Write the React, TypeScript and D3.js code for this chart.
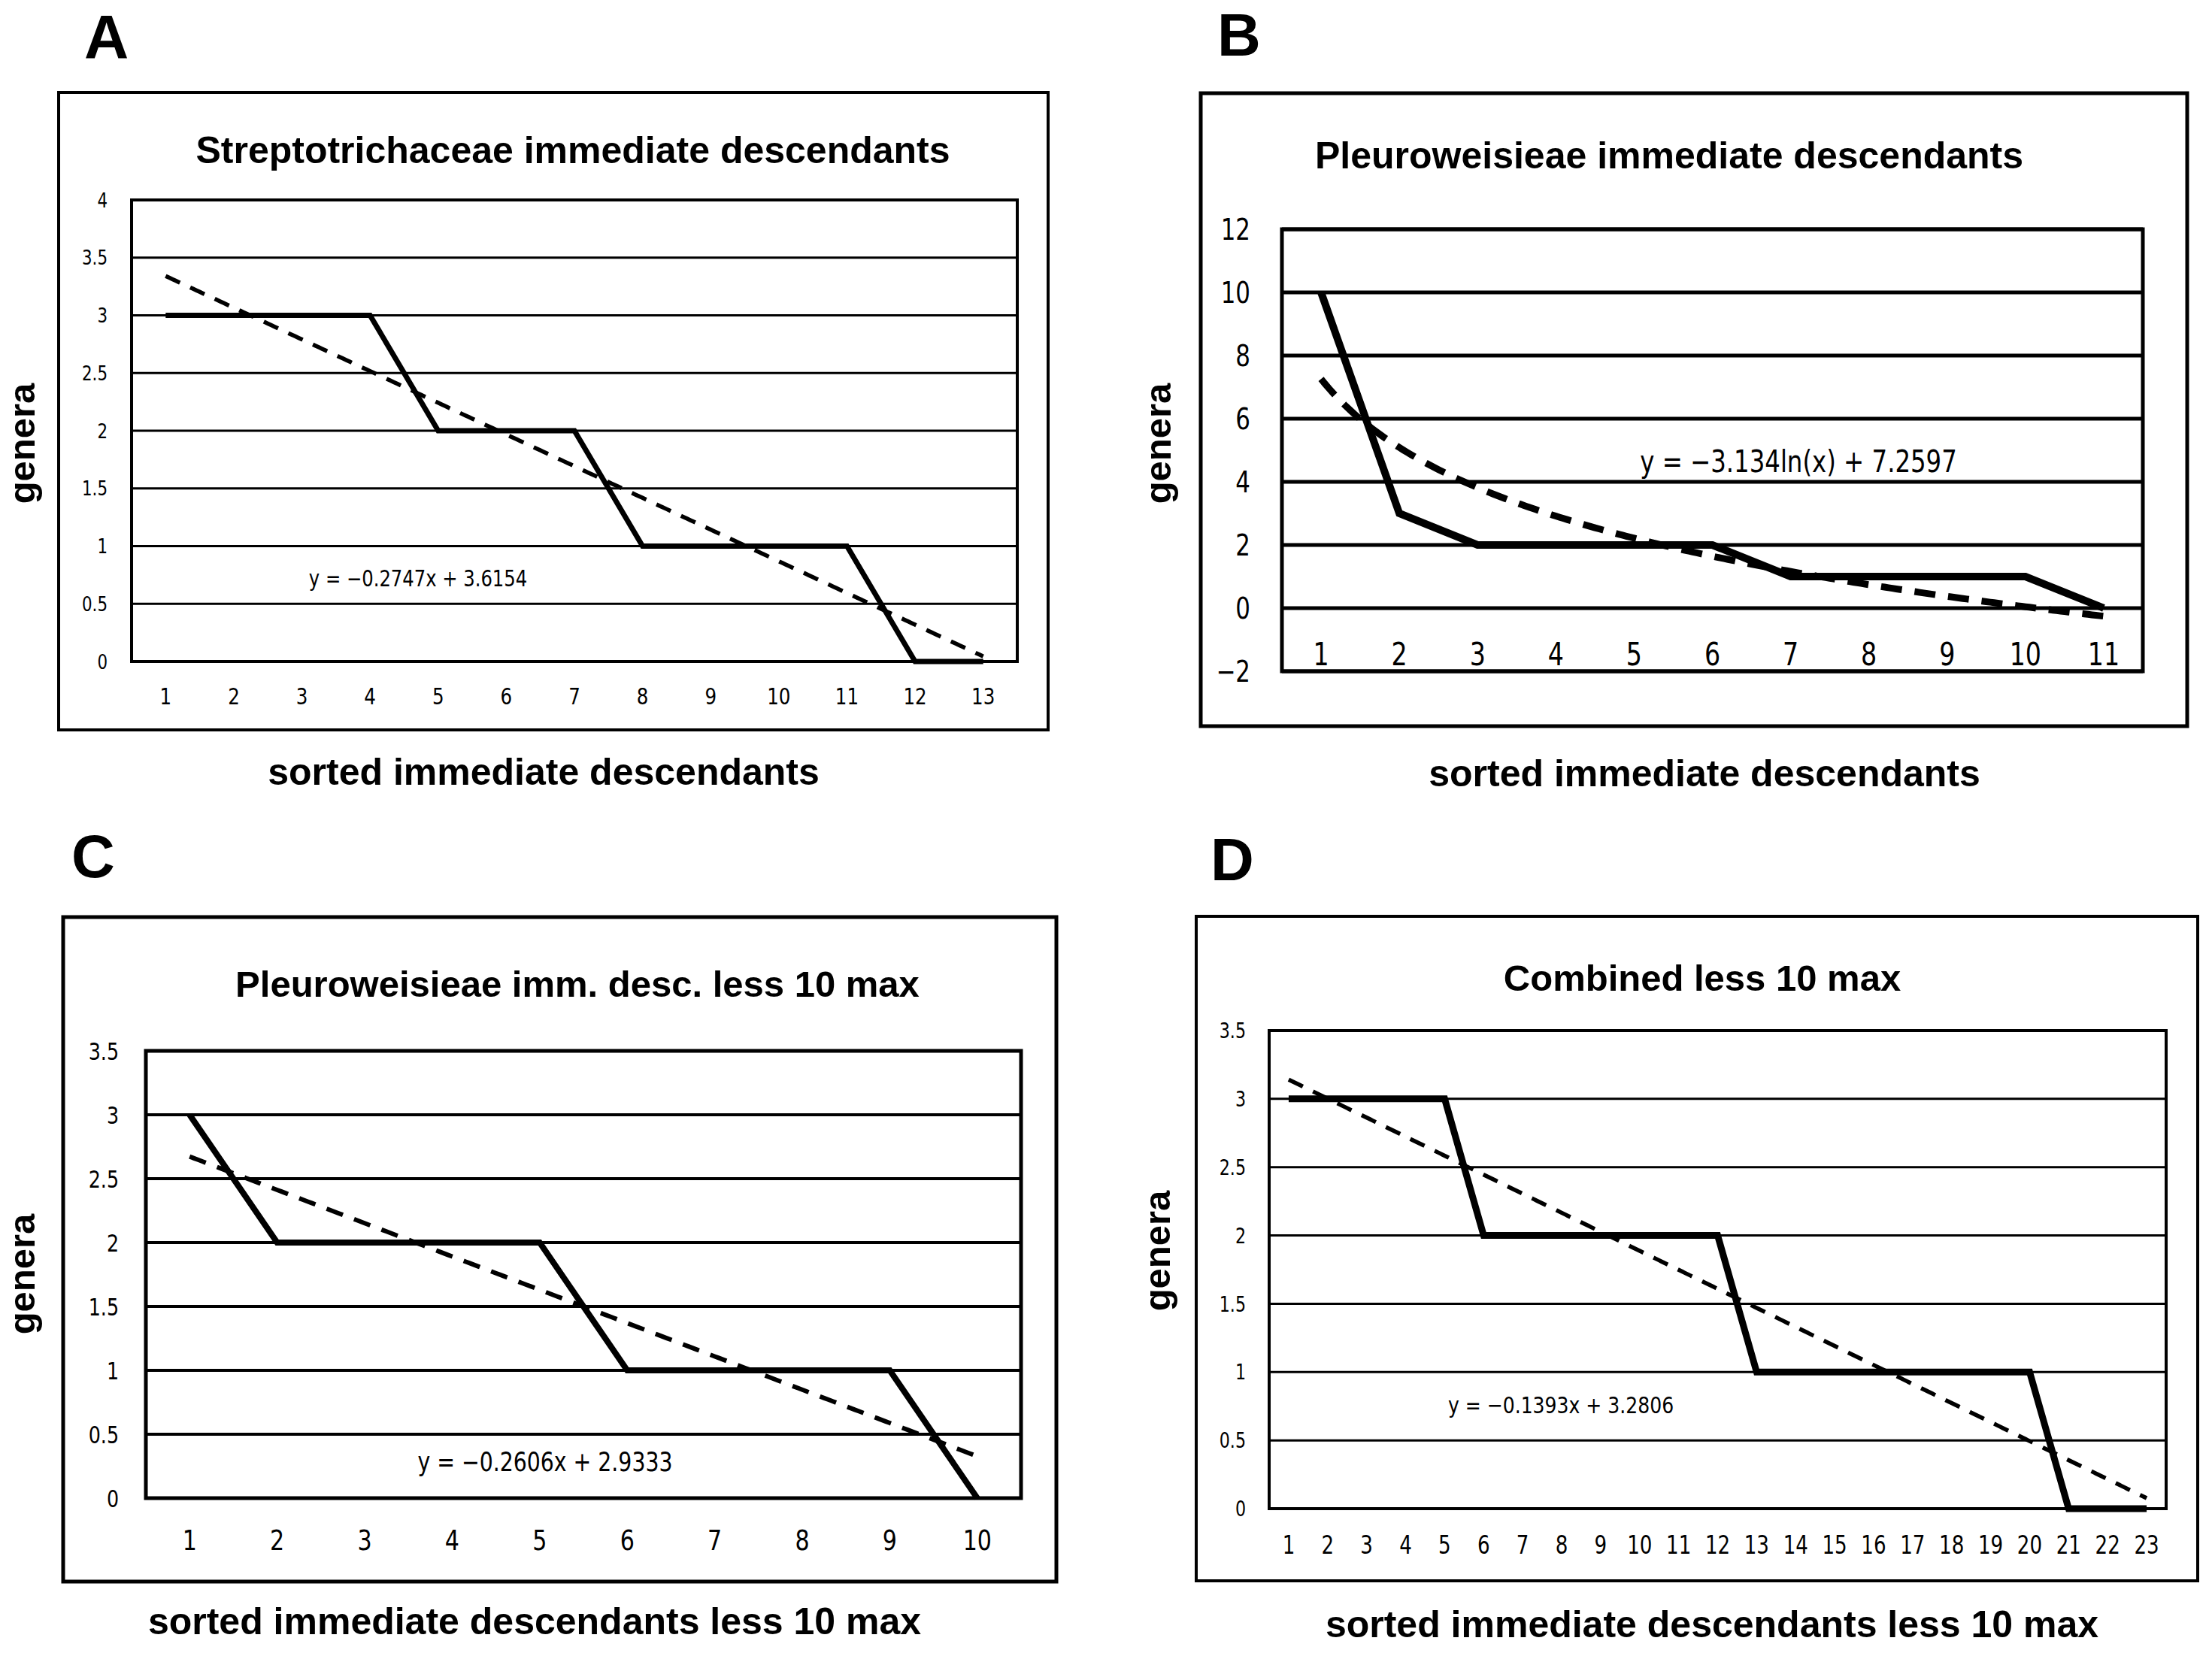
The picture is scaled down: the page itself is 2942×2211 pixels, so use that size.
import React from "react";
import * as d3 from "d3";

const W = 2942;
const H = 2211;

// ---------- Panel A ----------
const letterA = "A";
const titleA = "Streptotrichaceae immediate descendants";
const xTitleA = "sorted immediate descendants";
const xLabelsA = ["1", "2", "3", "4", "5", "6", "7", "8", "9", "10", "11", "12", "13"];
const generaA = [3, 3, 3, 3, 2, 2, 2, 1, 1, 1, 1, 0, 0];
const yTicksA = [0, 0.5, 1, 1.5, 2, 2.5, 3, 3.5, 4];
const slopeA = -0.2747;
const interceptA = 3.6154;
const equationA = "y = \u22120.2747x + 3.6154";

// ---------- Panel B ----------
const letterB = "B";
const titleB = "Pleuroweisieae immediate descendants";
const xTitleB = "sorted immediate descendants";
const xLabelsB = ["1", "2", "3", "4", "5", "6", "7", "8", "9", "10", "11"];
const generaB = [10, 3, 2, 2, 2, 2, 1, 1, 1, 1, 0];
const yTicksB = [-2, 0, 2, 4, 6, 8, 10, 12];
const logCoefB = -3.134;
const interceptB = 7.2597;
const equationB = "y = \u22123.134ln(x) + 7.2597";

// ---------- Panel C ----------
const letterC = "C";
const titleC = "Pleuroweisieae imm. desc. less 10 max";
const xTitleC = "sorted immediate descendants less 10 max";
const xLabelsC = ["1", "2", "3", "4", "5", "6", "7", "8", "9", "10"];
const generaC = [3, 2, 2, 2, 2, 1, 1, 1, 1, 0];
const yTicksC = [0, 0.5, 1, 1.5, 2, 2.5, 3, 3.5];
const slopeC = -0.2606;
const interceptC = 2.9333;
const equationC = "y = \u22120.2606x + 2.9333";

// ---------- Panel D ----------
const letterD = "D";
const titleD = "Combined less 10 max";
const xTitleD = "sorted immediate descendants less 10 max";
const xLabelsD = ["1", "2", "3", "4", "5", "6", "7", "8", "9", "10", "11", "12", "13", "14", "15", "16", "17", "18", "19", "20", "21", "22", "23"];
const generaD = [3, 3, 3, 3, 3, 2, 2, 2, 2, 2, 2, 2, 1, 1, 1, 1, 1, 1, 1, 1, 0, 0, 0];
const yTicksD = [0, 0.5, 1, 1.5, 2, 2.5, 3, 3.5];
const slopeD = -0.1393;
const interceptD = 3.2806;
const equationD = "y = \u22120.1393x + 3.2806";

const yTitle = "genera";

const BOLD = "'Liberation Sans', Arial, Helvetica, sans-serif";
const NARROW = "'Liberation Sans Narrow', 'Arial Narrow', 'DejaVu Sans Condensed', sans-serif";
const TICK_SX = 0.88;
const EQ_SX = 0.9;

type Layout = {
  outer: { x: number; y: number; w: number; h: number; sw: number };
  plot: { x: number; y: number; w: number; h: number; sw: number };
  gridW: number;
  lineW: number;
  dashW: number;
  dash: string;
  letter: { x: number; y: number; size: number };
  title: { x: number; y: number; size: number };
  yTick: { right: number; size: number };
  xTick: { y: number; size: number };
  eq: { x: number; y: number; size: number };
  xTitle: { x: number; y: number; size: number };
  yTitleP: { x: number; y: number; size: number };
};

type PanelProps = {
  layout: Layout;
  letter: string;
  title: string;
  xTitle: string;
  xLabels: string[];
  values: number[];
  yTicks: number[];
  trend: (x: number) => number;
  equation: string;
};

function Narrow(props: {
  x: number;
  y: number;
  size: number;
  sx: number;
  anchor: "start" | "middle" | "end";
  dy?: string;
  children: React.ReactNode;
}) {
  return (
    <text
      transform={`translate(${props.x},${props.y}) scale(${props.sx},1)`}
      dy={props.dy}
      textAnchor={props.anchor}
      fontFamily={NARROW}
      fontSize={props.size}
    >
      {props.children}
    </text>
  );
}

function Panel(p: PanelProps) {
  const L = p.layout;
  const n = p.xLabels.length;
  const x = d3
    .scaleBand<string>()
    .domain(p.xLabels)
    .range([L.plot.x, L.plot.x + L.plot.w])
    .padding(0);
  const xNum = d3
    .scaleLinear()
    .domain([0.5, n + 0.5])
    .range([L.plot.x, L.plot.x + L.plot.w]);
  const yDomain = d3.extent(p.yTicks) as [number, number];
  const y = d3
    .scaleLinear()
    .domain(yDomain)
    .range([L.plot.y + L.plot.h, L.plot.y]);

  const line = d3
    .line<number>()
    .x((_, i) => (x(p.xLabels[i]) as number) + x.bandwidth() / 2)
    .y((d) => y(d));

  const trendXs = d3.range(1, n + 0.0001, 0.05);
  const trendLine = d3
    .line<number>()
    .x((d) => xNum(d))
    .y((d) => y(p.trend(d)));

  return (
    <g>
      <rect
        x={L.outer.x}
        y={L.outer.y}
        width={L.outer.w}
        height={L.outer.h}
        fill="#fff"
        stroke="#000"
        strokeWidth={L.outer.sw}
      />
      <text
        x={L.letter.x}
        y={L.letter.y}
        fontFamily={BOLD}
        fontWeight="bold"
        fontSize={L.letter.size}
      >
        {p.letter}
      </text>
      <text
        x={L.title.x}
        y={L.title.y}
        textAnchor="middle"
        fontFamily={BOLD}
        fontWeight="bold"
        fontSize={L.title.size}
      >
        {p.title}
      </text>
      {p.yTicks.map((t) => (
        <line
          key={"g" + t}
          x1={L.plot.x}
          x2={L.plot.x + L.plot.w}
          y1={y(t)}
          y2={y(t)}
          stroke="#000"
          strokeWidth={L.gridW}
        />
      ))}
      <rect
        x={L.plot.x}
        y={L.plot.y}
        width={L.plot.w}
        height={L.plot.h}
        fill="none"
        stroke="#000"
        strokeWidth={L.plot.sw}
      />
      {p.yTicks.map((t) => (
        <Narrow
          key={"yt" + t}
          x={L.yTick.right}
          y={y(t)}
          dy="0.36em"
          anchor="end"
          size={L.yTick.size}
          sx={TICK_SX}
        >
          {t < 0 ? "\u2212" + Math.abs(t) : String(t)}
        </Narrow>
      ))}
      {p.xLabels.map((lab) => (
        <Narrow
          key={"xt" + lab}
          x={(x(lab) as number) + x.bandwidth() / 2}
          y={L.xTick.y}
          dy="0.36em"
          anchor="middle"
          size={L.xTick.size}
          sx={TICK_SX}
        >
          {lab}
        </Narrow>
      ))}
      <path
        d={trendLine(trendXs) || ""}
        fill="none"
        stroke="#000"
        strokeWidth={L.dashW}
        strokeDasharray={L.dash}
      />
      <path
        d={line(p.values) || ""}
        fill="none"
        stroke="#000"
        strokeWidth={L.lineW}
        strokeLinejoin="miter"
        strokeMiterlimit={10}
      />
      <Narrow x={L.eq.x} y={L.eq.y} anchor="middle" size={L.eq.size} sx={EQ_SX}>
        {p.equation}
      </Narrow>
      <text
        x={L.xTitle.x}
        y={L.xTitle.y}
        textAnchor="middle"
        fontFamily={BOLD}
        fontWeight="bold"
        fontSize={L.xTitle.size}
      >
        {p.xTitle}
      </text>
      <text
        transform={`translate(${L.yTitleP.x},${L.yTitleP.y}) rotate(-90)`}
        textAnchor="middle"
        fontFamily={BOLD}
        fontWeight="bold"
        fontSize={L.yTitleP.size}
      >
        {yTitle}
      </text>
    </g>
  );
}

const layoutA: Layout = {
  outer: { x: 78, y: 123, w: 1316, h: 848, sw: 4 },
  plot: { x: 175, y: 266, w: 1178, h: 614, sw: 4 },
  gridW: 3,
  lineW: 7,
  dashW: 5.5,
  dash: "21 15",
  letter: { x: 112, y: 77, size: 82 },
  title: { x: 762, y: 217, size: 50 },
  yTick: { right: 143, size: 27 },
  xTick: { y: 926, size: 31 },
  eq: { x: 556, y: 780, size: 30 },
  xTitle: { x: 723, y: 1044, size: 50 },
  yTitleP: { x: 46, y: 590, size: 49 },
};

const layoutB: Layout = {
  outer: { x: 1597, y: 124, w: 1312, h: 842, sw: 5 },
  plot: { x: 1705, y: 305, w: 1145, h: 588, sw: 5 },
  gridW: 5,
  lineW: 10,
  dashW: 9,
  dash: "28 17",
  letter: { x: 1619, y: 74, size: 80 },
  title: { x: 2220, y: 224, size: 50 },
  yTick: { right: 1663, size: 39 },
  xTick: { y: 870, size: 42 },
  eq: { x: 2392, y: 628, size: 40 },
  xTitle: { x: 2267, y: 1046, size: 50 },
  yTitleP: { x: 1557, y: 590, size: 49 },
};

const layoutC: Layout = {
  outer: { x: 84, y: 1220, w: 1321, h: 884, sw: 5 },
  plot: { x: 194, y: 1398, w: 1164, h: 595, sw: 5 },
  gridW: 4,
  lineW: 8,
  dashW: 6,
  dash: "23 16",
  letter: { x: 95, y: 1167, size: 80 },
  title: { x: 768, y: 1326, size: 49 },
  yTick: { right: 158, size: 32 },
  xTick: { y: 2048, size: 38 },
  eq: { x: 725, y: 1957, size: 35 },
  xTitle: { x: 711, y: 2174, size: 50 },
  yTitleP: { x: 46, y: 1695, size: 49 },
};

const layoutD: Layout = {
  outer: { x: 1591, y: 1219, w: 1332, h: 884, sw: 4 },
  plot: { x: 1688, y: 1371, w: 1193, h: 636, sw: 4 },
  gridW: 3,
  lineW: 9,
  dashW: 5.5,
  dash: "21 15",
  letter: { x: 1610, y: 1171, size: 80 },
  title: { x: 2264, y: 1318, size: 49 },
  yTick: { right: 1657, size: 28 },
  xTick: { y: 2055, size: 33 },
  eq: { x: 2076, y: 1880, size: 31 },
  xTitle: { x: 2277, y: 2178, size: 50 },
  yTitleP: { x: 1556, y: 1664, size: 49 },
};

export default function App() {
  return (
    <svg
      width={W}
      height={H}
      viewBox={`0 0 ${W} ${H}`}
      style={{ position: "absolute", left: 0, top: 0, background: "#fff" }}
    >
      <rect x={0} y={0} width={W} height={H} fill="#fff" />
      <Panel
        layout={layoutA}
        letter={letterA}
        title={titleA}
        xTitle={xTitleA}
        xLabels={xLabelsA}
        values={generaA}
        yTicks={yTicksA}
        trend={(v) => slopeA * v + interceptA}
        equation={equationA}
      />
      <Panel
        layout={layoutB}
        letter={letterB}
        title={titleB}
        xTitle={xTitleB}
        xLabels={xLabelsB}
        values={generaB}
        yTicks={yTicksB}
        trend={(v) => logCoefB * Math.log(v) + interceptB}
        equation={equationB}
      />
      <Panel
        layout={layoutC}
        letter={letterC}
        title={titleC}
        xTitle={xTitleC}
        xLabels={xLabelsC}
        values={generaC}
        yTicks={yTicksC}
        trend={(v) => slopeC * v + interceptC}
        equation={equationC}
      />
      <Panel
        layout={layoutD}
        letter={letterD}
        title={titleD}
        xTitle={xTitleD}
        xLabels={xLabelsD}
        values={generaD}
        yTicks={yTicksD}
        trend={(v) => slopeD * v + interceptD}
        equation={equationD}
      />
    </svg>
  );
}
